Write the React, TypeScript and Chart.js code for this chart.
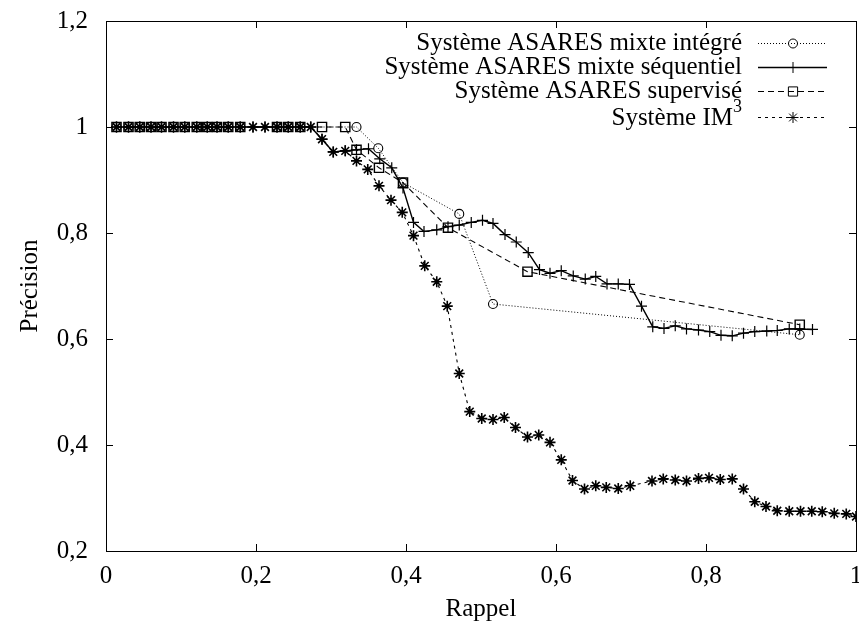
import React, { useEffect, useRef } from 'react';
import { Chart, registerables } from 'chart.js';
import { drawPoint } from 'chart.js/helpers';

Chart.register(...registerables);

const xTickLabels = ['0', '0,2', '0,4', '0,6', '0,8', '1'];
const yTickLabels = ['0,2', '0,4', '0,6', '0,8', '1', '1,2'];
const xTickValues = [0, 0.2, 0.4, 0.6, 0.8, 1];
const yTickValues = [0.2, 0.4, 0.6, 0.8, 1, 1.2];
const seriesNames = [
  'Système ASARES mixte intégré',
  'Système ASARES mixte séquentiel',
  'Système ASARES supervisé',
  'Système IM',
];

const integreX = [0.014, 0.030, 0.045, 0.060, 0.074, 0.090, 0.105, 0.121, 0.135, 0.148, 0.163, 0.179, 0.228, 0.243, 0.259, 0.334, 0.363, 0.396, 0.471, 0.516, 0.925];
const integreY = [1, 1, 1, 1, 1, 1, 1, 1, 1, 1, 1, 1, 1, 1, 1, 1, 0.96, 0.895, 0.836, 0.666, 0.608];

const sequentielX = [0.014, 0.030, 0.045, 0.060, 0.074, 0.090, 0.105, 0.121, 0.135, 0.148, 0.163, 0.179, 0.196, 0.212, 0.228, 0.243, 0.259, 0.273,
  0.288, 0.303, 0.319, 0.334, 0.350, 0.365, 0.381, 0.396, 0.410, 0.424, 0.441, 0.456, 0.471, 0.487, 0.502, 0.516, 0.532, 0.547, 0.563, 0.578,
  0.592, 0.607, 0.623, 0.639, 0.653, 0.668, 0.683, 0.698, 0.714, 0.729, 0.744, 0.759, 0.774, 0.790, 0.805, 0.820, 0.835, 0.850, 0.865, 0.881,
  0.895, 0.911, 0.925, 0.942];
const sequentielY = [1, 1, 1, 1, 1, 1, 1, 1, 1, 1, 1, 1, 1, 1, 1, 1, 1, 1,
  0.977, 0.953, 0.955, 0.957, 0.959, 0.940, 0.923, 0.885, 0.820, 0.803, 0.806, 0.812, 0.815, 0.820, 0.824, 0.818, 0.797, 0.783, 0.763, 0.731,
  0.724, 0.729, 0.719, 0.713, 0.718, 0.704, 0.704, 0.703, 0.662, 0.623, 0.620, 0.625, 0.619, 0.617, 0.614, 0.607, 0.606, 0.611, 0.614, 0.615,
  0.616, 0.619, 0.619, 0.618];

const superviseX = [0.014, 0.030, 0.045, 0.060, 0.074, 0.090, 0.105, 0.121, 0.135, 0.148, 0.163, 0.179, 0.228, 0.243, 0.259, 0.288, 0.319, 0.334, 0.364, 0.396, 0.456, 0.562, 0.925];
const superviseY = [1, 1, 1, 1, 1, 1, 1, 1, 1, 1, 1, 1, 1, 1, 1, 1, 1, 0.957, 0.923, 0.895, 0.81, 0.727, 0.627];

const im3X = [0.014, 0.030, 0.045, 0.060, 0.074, 0.090, 0.105, 0.121, 0.135, 0.148, 0.163, 0.179, 0.196, 0.212, 0.228, 0.243, 0.259, 0.273,
  0.288, 0.303, 0.319, 0.334, 0.349, 0.364, 0.380, 0.395, 0.410, 0.425, 0.441, 0.455, 0.471, 0.485, 0.501, 0.516, 0.531, 0.546, 0.562, 0.577,
  0.592, 0.607, 0.622, 0.638, 0.653, 0.667, 0.683, 0.699, 0.728, 0.743, 0.759, 0.774, 0.790, 0.804, 0.819, 0.835, 0.850, 0.865, 0.880, 0.895,
  0.911, 0.926, 0.941, 0.955, 0.971, 0.987, 1.0];
const im3Y = [1, 1, 1, 1, 1, 1, 1, 1, 1, 1, 1, 1, 1, 1, 1, 1, 1, 1,
  0.977, 0.953, 0.955, 0.936, 0.920, 0.889, 0.862, 0.839, 0.795, 0.738, 0.708, 0.662, 0.535, 0.463, 0.450, 0.448, 0.452, 0.433, 0.415, 0.419,
  0.405, 0.372, 0.333, 0.317, 0.323, 0.320, 0.318, 0.323, 0.332, 0.336, 0.334, 0.332, 0.337, 0.338, 0.335, 0.336, 0.317, 0.293, 0.284, 0.276,
  0.275, 0.275, 0.275, 0.274, 0.271, 0.270, 0.265];

const FONT = "'Liberation Serif', 'Times New Roman', serif";
const PLOT_RIGHT_GAP = 3;

const toPoints = (xs: number[], ys: number[]) => xs.map((x, i) => ({ x, y: ys[i] }));

const noPadding = () => ({ left: 0, top: 0, right: 0, bottom: 0 });

const frameAndLegend = {
  id: 'frameAndLegend',
  afterLayout(chart: any) {
    const a = chart.chartArea;
    const xs = chart.scales.x;
    const right = chart.width - PLOT_RIGHT_GAP;
    a.right = right;
    a.width = right - a.left;
    xs.right = right;
    xs.width = right - xs.left;
    xs.configure();
  },
  afterDatasetsDraw(chart: any) {
    const { ctx, chartArea: a, scales } = chart;
    ctx.save();
    ctx.strokeStyle = '#000';
    ctx.lineWidth = 1;
    ctx.setLineDash([]);
    ctx.strokeRect(Math.round(a.left) + 0.5, Math.round(a.top) + 0.5, Math.round(a.right - a.left), Math.round(a.bottom - a.top));
    const tl = 7;
    ctx.beginPath();
    xTickValues.forEach((v) => {
      const px = Math.round(scales.x.getPixelForValue(v)) + 0.5;
      ctx.moveTo(px, a.bottom); ctx.lineTo(px, a.bottom - tl);
      ctx.moveTo(px, a.top); ctx.lineTo(px, a.top + tl);
    });
    yTickValues.forEach((v) => {
      const py = Math.round(scales.y.getPixelForValue(v)) + 0.5;
      ctx.moveTo(a.left, py); ctx.lineTo(a.left + tl, py);
      ctx.moveTo(a.right, py); ctx.lineTo(a.right - tl, py);
    });
    ctx.stroke();

    // legend
    const rowsY = [43, 67, 91, 117];
    const textRight = 742;
    const x0 = 758, x1 = 827, xm = 793;
    chart.data.datasets.forEach((ds: any, i: number) => {
      const y = rowsY[i];
      ctx.fillStyle = '#000';
      ctx.textBaseline = 'middle';
      ctx.textAlign = 'right';
      ctx.font = `25px ${FONT}`;
      if (i === 3) {
        ctx.font = `18px ${FONT}`;
        const w3 = ctx.measureText('3').width;
        ctx.textAlign = 'left';
        ctx.fillText('3', textRight - w3, y - 10);
        ctx.font = `25px ${FONT}`;
        ctx.textAlign = 'right';
        ctx.fillText(seriesNames[i], textRight - w3, y + 1);
      } else {
        ctx.fillText(seriesNames[i], textRight, y);
      }
      ctx.strokeStyle = '#000';
      ctx.lineWidth = ds.borderWidth;
      ctx.setLineDash(ds.borderDash || []);
      ctx.beginPath();
      ctx.moveTo(x0, y + 0.5); ctx.lineTo(x1, y + 0.5);
      ctx.stroke();
      ctx.setLineDash([]);
      ctx.lineWidth = 1;
      ctx.fillStyle = 'rgba(0,0,0,0)';
      drawPoint(ctx, { pointStyle: ds.pointStyle, radius: ds.pointRadius, rotation: 0, borderWidth: 1 }, xm, y + 0.5);
    });
    ctx.restore();
  },
};

export default function App() {
  const ref = useRef<HTMLCanvasElement>(null);
  useEffect(() => {
    document.body.style.margin = '0';
    document.body.style.overflow = 'hidden';
    const chart = new Chart(ref.current!, {
      type: 'line',
      data: {
        datasets: [
          {
            label: seriesNames[0], data: toPoints(integreX, integreY), borderColor: '#000', borderWidth: 1,
            borderDash: [1, 2], pointStyle: 'circle', pointRadius: 4.5, pointBorderColor: '#000',
            pointBackgroundColor: 'rgba(0,0,0,0)', pointBorderWidth: 1.1, order: 3,
          },
          {
            label: seriesNames[1], data: toPoints(sequentielX, sequentielY), borderColor: '#000', borderWidth: 1.4,
            borderDash: [], pointStyle: 'cross', pointRadius: 5.5, pointBorderColor: '#000',
            pointBackgroundColor: 'rgba(0,0,0,0)', pointBorderWidth: 1.2, order: 2,
          },
          {
            label: seriesNames[2], data: toPoints(superviseX, superviseY), borderColor: '#000', borderWidth: 1.1,
            borderDash: [6, 4], pointStyle: 'rect', pointRadius: 6.5, pointBorderColor: '#000',
            pointBackgroundColor: 'rgba(0,0,0,0)', pointBorderWidth: 1.4, order: 1,
          },
          {
            label: seriesNames[3], data: toPoints(im3X, im3Y), borderColor: '#000', borderWidth: 1.1,
            borderDash: [3, 4], pointStyle: 'star', pointRadius: 5.5, pointBorderColor: '#000',
            pointBackgroundColor: 'rgba(0,0,0,0)', pointBorderWidth: 1.6, order: 0,
          },
        ],
      },
      options: {
        animation: false,
        responsive: false,
        devicePixelRatio: 1,
        layout: { padding: { top: 21, right: PLOT_RIGHT_GAP, left: 0, bottom: 0 } },
        elements: { line: { tension: 0 } },
        plugins: { legend: { display: false }, tooltip: { enabled: false } },
        scales: {
          x: {
            type: 'linear', min: 0, max: 1,
            afterFit: (s: any) => {
              s.height = 74; s.paddingLeft = 0; s.paddingRight = 0; s.paddingTop = 0; s.paddingBottom = 0;
              s.getPadding = noPadding;
            },
            afterBuildTicks: (s: any) => { s.ticks = xTickValues.map((v) => ({ value: v })); },
            ticks: {
              color: '#000', font: { family: FONT, size: 25 }, padding: 10,
              callback: (v: any) => xTickLabels[xTickValues.findIndex((t) => Math.abs(t - v) < 1e-6)],
              maxRotation: 0, autoSkip: false,
            },
            grid: { display: false, drawTicks: false },
            border: { display: false },
            title: { display: true, text: 'Rappel', color: '#000', font: { family: FONT, size: 25 }, padding: { top: 0, bottom: 1 } },
          },
          y: {
            type: 'linear', min: 0.2, max: 1.2,
            afterFit: (s: any) => {
              s.width = 106; s.paddingTop = 0; s.paddingBottom = 0; s.paddingLeft = 0; s.paddingRight = 0;
              s.getPadding = noPadding;
            },
            afterBuildTicks: (s: any) => { s.ticks = yTickValues.map((v) => ({ value: v })); },
            ticks: {
              color: '#000', font: { family: FONT, size: 25 }, padding: 18,
              callback: (v: any) => yTickLabels[yTickValues.findIndex((t) => Math.abs(t - v) < 1e-6)],
              autoSkip: false,
            },
            grid: { display: false, drawTicks: false },
            border: { display: false },
            title: { display: true, text: 'Précision', color: '#000', font: { family: FONT, size: 25 }, padding: { top: 15, bottom: 0 } },
          },
        },
      },
      plugins: [frameAndLegend],
    } as any);
    return () => chart.destroy();
  }, []);
  return (
    <div style={{ position: 'fixed', left: 0, top: 0, width: 859, height: 625, background: '#fff', overflow: 'hidden' }}>
      <canvas ref={ref} width={859} height={625} style={{ display: 'block', width: 859, height: 625 }} />
    </div>
  );
}
